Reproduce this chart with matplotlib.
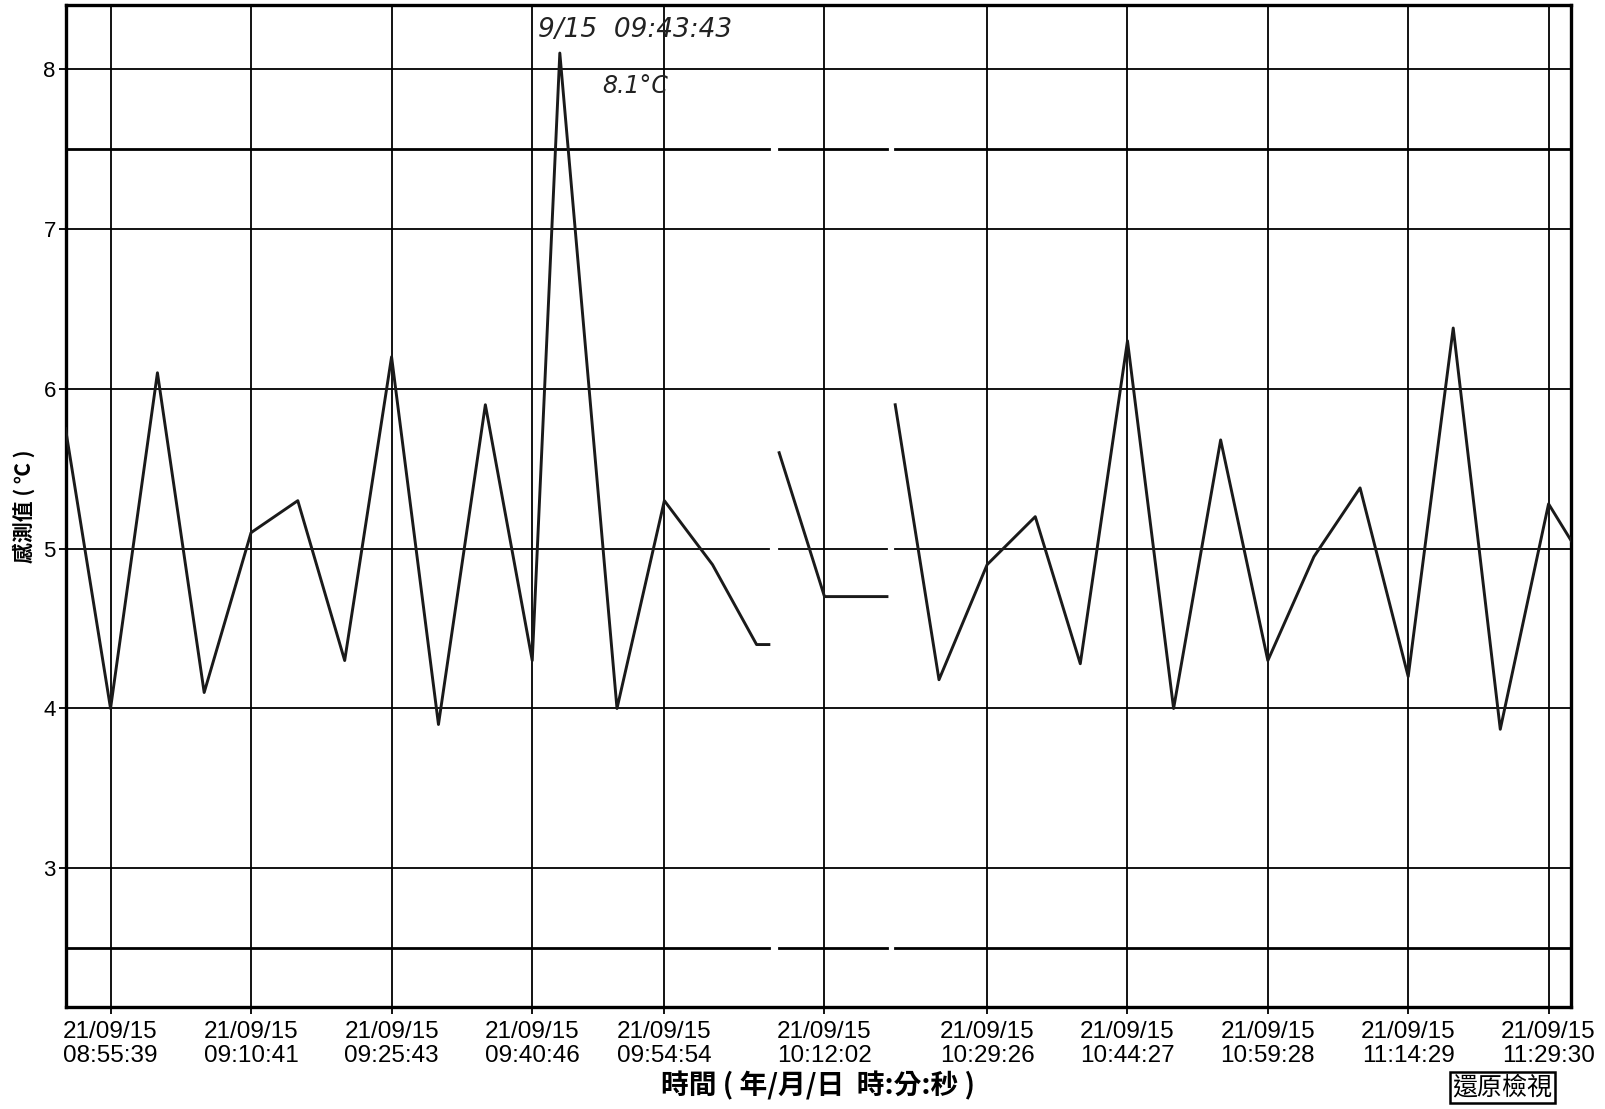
import datetime as dt
import numpy as np
import matplotlib
matplotlib.use('Agg')
import matplotlib.pyplot as plt
import matplotlib.dates as mdates

plt.rcParams['font.family'] = ['Liberation Sans', 'Noto Sans CJK TC', 'DejaVu Sans']

# 測定時刻 (2021/09/15) と感測値, nan = 欠測
times = ['08:50:50', '08:55:39', '09:00:40', '09:05:40', '09:10:41', '09:15:41',
         '09:20:42', '09:25:43', '09:30:44', '09:35:45', '09:40:46', '09:43:43',
         '09:49:50', '09:54:54', '10:00:03', '10:04:46', '10:06:05', '10:06:38',
         '10:07:11', '10:12:02', '10:18:43', '10:19:10', '10:19:36', '10:24:17',
         '10:29:26', '10:34:35', '10:39:24', '10:44:27', '10:49:23', '10:54:25',
         '10:59:28', '11:04:24', '11:09:20', '11:14:29', '11:19:18', '11:24:20',
         '11:29:30', '11:31:55']
values = [5.75, 4.0, 6.1, 4.1, 5.1, 5.3,
          4.3, 6.2, 3.9, 5.9, 4.3, 8.1,
          4.0, 5.3, 4.9, 4.4, 4.4, np.nan,
          5.6, 4.7, 4.7, np.nan, 5.9, 4.18,
          4.9, 5.2, 4.28, 6.3, 4.0, 5.68,
          4.3, 4.95, 5.38, 4.2, 6.38, 3.87,
          5.28, 5.05]
upper_limit = 7.5
lower_limit = 2.5
center_line = 5.0

tick_times = ['08:55:39', '09:10:41', '09:25:43', '09:40:46', '09:54:54', '10:12:02',
              '10:29:26', '10:44:27', '10:59:28', '11:14:29', '11:29:30']
y_ticks = [3, 4, 5, 6, 7, 8]

day = '2021-09-15 '
def to_num(tlist):
    return mdates.date2num([dt.datetime.strptime(day + t, '%Y-%m-%d %H:%M:%S') for t in tlist])

x = to_num(times)
xt = to_num(tick_times)
vals = np.array(values)
mask = np.isnan(vals)

fig = plt.figure(figsize=(16.06, 11.09), dpi=100)
ax = fig.add_axes([0.0408, 0.0923, 0.9375, 0.9031])

# grid
for v in y_ticks:
    if v != center_line:
        ax.axhline(v, color='black', lw=1.3, zorder=1)
for v in xt:
    ax.axvline(v, color='black', lw=1.3, zorder=1)

# limit lines (share the gaps with the data)
for lim, lw in [(upper_limit, 2.0), (lower_limit, 2.0), (center_line, 1.3)]:
    ly = np.where(mask, np.nan, lim)
    ax.plot(x, ly, color='black', lw=lw, zorder=2)

ax.plot(x, vals, color='#1a1a1a', lw=2.1, zorder=3)

ax.set_xlim(x[0], x[-1])
ax.set_ylim(2.135, 8.40)
ax.set_yticks(y_ticks)
ax.set_yticklabels([str(v) for v in y_ticks], fontsize=16)
ax.set_xticks(xt)
ax.set_xticklabels(['21/09/15\n' + t for t in tick_times], fontsize=17.5, linespacing=1.12)
ax.tick_params(axis='both', direction='out', length=5, width=1.3, colors='black')
ax.tick_params(axis='x', pad=5)
ax.tick_params(axis='y', pad=2)
for s in ax.spines.values():
    s.set_linewidth(2.4)

ax.set_xlabel('時間 ( 年/月/日  時:分:秒 )', fontsize=20, fontweight='bold',
              family=['Noto Sans CJK TC', 'DejaVu Sans'], labelpad=3)
ax.set_ylabel('感測值 ( ℃ )', fontsize=15, fontweight='bold',
              family=['Noto Sans CJK TC', 'DejaVu Sans'], labelpad=6)

# handwritten note on the peak
ax.text(0.3785, 0.968, '9/15  09:43:43', transform=ax.transAxes, fontsize=19,
        style='italic', family='DejaVu Sans', fontweight='light', color='#222222', ha='center')
ax.text(0.3785, 0.912, '8.1°C', transform=ax.transAxes, fontsize=17,
        style='italic', family='DejaVu Sans', fontweight='light', color='#222222', ha='center')

# button
fig.text(0.9355, 0.0075, '還原檢視', fontsize=18, family=['Noto Sans CJK TC', 'DejaVu Sans'],
         ha='center', va='bottom',
         bbox=dict(boxstyle='square,pad=0.1', fc='white', ec='black', lw=1.8))

fig.savefig('out.png', dpi=100, facecolor='white')
